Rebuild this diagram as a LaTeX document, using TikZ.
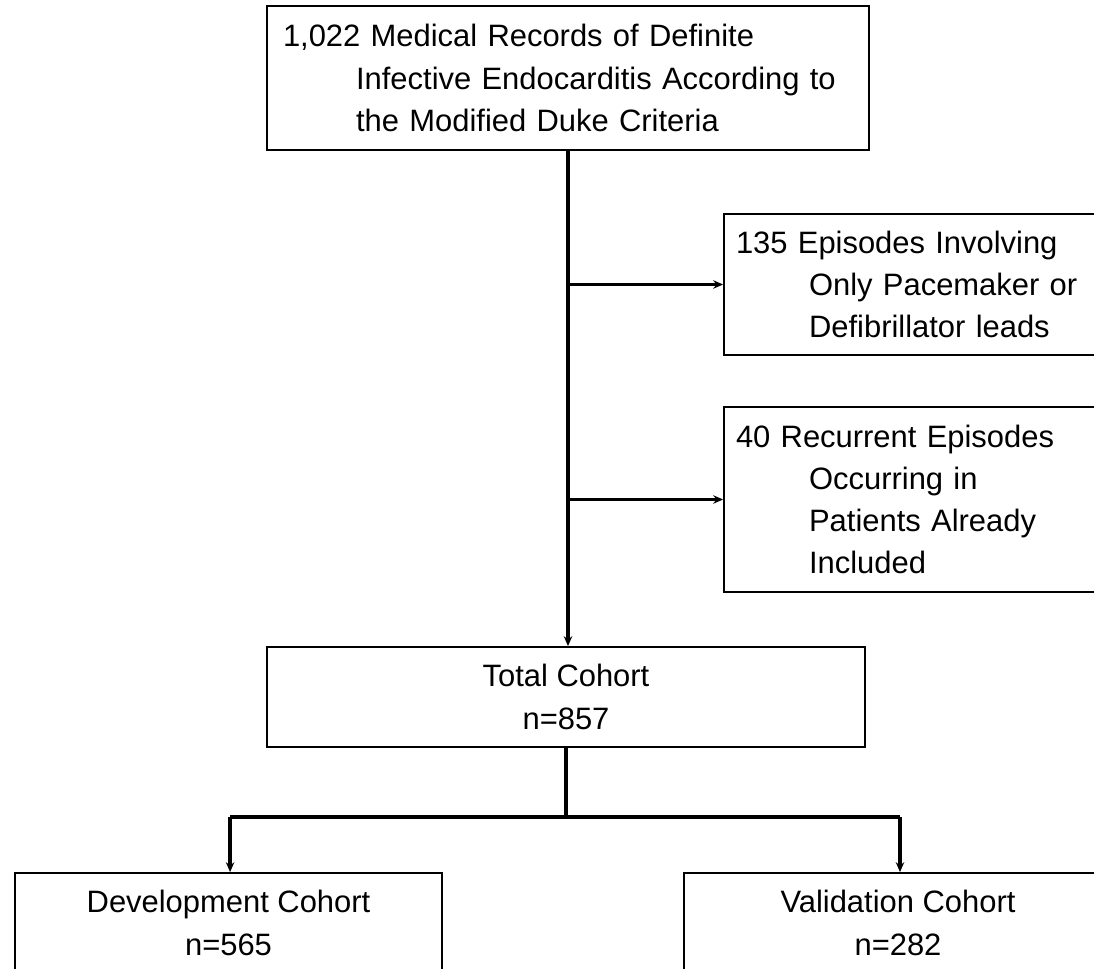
\documentclass[tikz,border=0pt]{standalone}
\usepackage{fontspec}
\setmainfont{Liberation Sans}
\usetikzlibrary{arrows.meta}
\begin{document}
\begin{tikzpicture}[
  block/.style = {draw, line width=1.3pt, font=\fontsize{22}{30}\selectfont,
                  inner ysep=0pt},
  leftbox/.style = {block, align=left},
  midbox/.style  = {block, align=center, minimum height=2.5cm},
  wire/.style  = {line width=2.3pt},
  bar/.style   = {line width=3pt},
  >={Stealth[length=7pt,width=6pt]}
]
  \useasboundingbox (0,0) rectangle (27.35,-24.225);

  % Caixas da coluna principal
  \node[leftbox, text width=14.25cm, inner xsep=0.4cm, minimum height=3.6cm]
    (records) at (14.2,-1.95)
    {1,022 Medical Records of Definite\\
     \hspace*{52pt}Infective Endocarditis According to\\
     \hspace*{52pt}the Modified Duke Criteria};
  \node[midbox, minimum width=14.95cm] (total) at (14.15,-17.425)
    {Total Cohort\\n=857};

  % Exclusoes
  \node[leftbox, text width=9.05cm, inner xsep=0.3cm, minimum height=3.525cm]
    (excl1) at (22.925,-7.1125)
    {135 Episodes Involving\\
     \hspace*{52pt}Only Pacemaker or\\
     \hspace*{52pt}Defibrillator leads};
  \node[leftbox, text width=9.05cm, inner xsep=0.3cm, minimum height=4.625cm]
    (excl2) at (22.925,-12.4875)
    {40 Recurrent Episodes\\
     \hspace*{52pt}Occurring in\\
     \hspace*{52pt}Patients Already\\
     \hspace*{52pt}Included};

  % Coortes
  \node[midbox, minimum width=10.675cm] (dev) at (5.7125,-23.075)
    {Development Cohort\\n=565};
  \node[midbox, minimum width=10.7cm] (val) at (22.45,-23.075)
    {Validation Cohort\\n=282};

  % Fios
  \draw[wire, ->] (records.south) -- (records.south |- total.north);
  \draw[wire, ->] (records.south |- excl1.west) -- (excl1.west);
  \draw[wire, ->] (records.south |- excl2.west) -- (excl2.west);

  \coordinate (split) at (14.15,-20.425);
  \draw[wire] (total.south) -- (split);
  \draw[bar] ([xshift=0.04cm]dev.north |- split) -- ([xshift=0.05cm]val.north |- split);
  \draw[wire, ->] ([xshift=0.04cm]dev.north |- split) -- ([xshift=0.04cm]dev.north);
  \draw[wire, ->] ([xshift=0.05cm]val.north |- split) -- ([xshift=0.05cm]val.north);
\end{tikzpicture}
\end{document}
